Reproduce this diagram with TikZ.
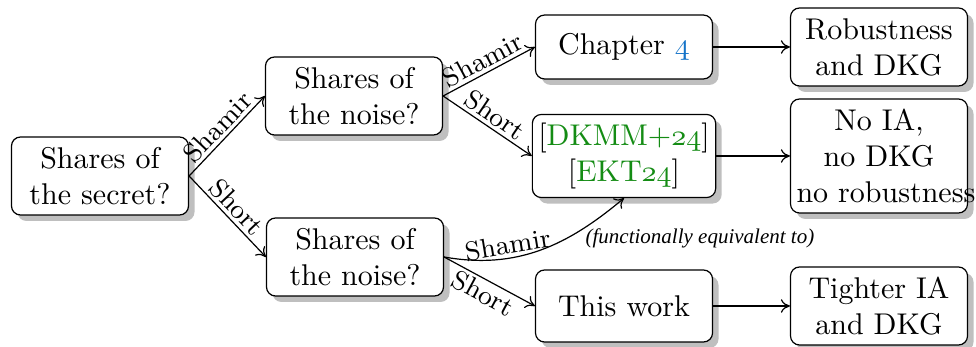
\documentclass[tikz,border=0pt]{standalone}
\usepackage{fontspec}
\newfontfamily\feitfont{Liberation Serif}
\usetikzlibrary{shadows,arrows.meta}
\definecolor{linkblue}{RGB}{20,115,200}
\definecolor{citegreen}{RGB}{20,140,20}
\newcommand{\osnum}[1]{\ensuremath{\mathnormal{#1}}}
\begin{document}
\begin{tikzpicture}[x=0.33333pt,y=-0.33333pt,
  box/.style={draw, rounded corners=3pt, fill=white, align=center, inner sep=2pt,
     minimum width=59pt, minimum height=26pt,
     drop shadow={shadow xshift=2pt, shadow yshift=-2pt, fill=black!25, opacity=1}},
  arr/.style={-{To[length=3pt,width=4.5pt]}, line width=0.4pt},
  lab/.style={font=\small, sloped, inner sep=1pt},
]
\useasboundingbox (0,0) rectangle (976,347);
\node[box] (A) at (100,176) {Shares of\\the secret?};
\node[box] (B) at (354,96) {Shares of\\the noise?};
\node[box] (C) at (355,257) {Shares of\\the noise?};
\node[box, minimum height=21.3pt] (D) at (624,47) {Chapter \textcolor{linkblue}{\osnum{4}}};
\node[box, minimum height=27.7pt] (E) at (624,156) {{[}\textcolor{citegreen}{DKMM+\osnum{24}}{]}\\{[}\textcolor{citegreen}{EKT\osnum{24}}{]}};
\node[box, minimum height=24pt] (F) at (624,306) {This work};
\node[box] (G) at (879,47) {Robustness\\and DKG};
\node[box, text width=55pt, minimum height=38pt] (H) at (879,156) {No IA,\\no DKG\\\mbox{no robustness}};
\node[box] (I) at (879,306) {Tighter IA\\and DKG};
\node[anchor=west, font=\feitfont\fontsize{7}{8}\selectfont\itshape, inner sep=1pt] (fe) at (582,238) {(functionally equivalent to)};

\draw[arr] (A.east) -- node[lab, above] {Shamir} (B.west);
\draw[arr] (A.east) -- node[lab, above] {Short} (C.west);
\draw[arr] (B.east) -- node[lab, above] {Shamir} (D.west);
\draw[arr] (B.east) -- node[lab, above] {Short} (E.west);
\draw[arr] (C.east) to[out=-10, in=220] node[lab, above, pos=0.33] {Shamir} (E.south);
\draw[arr] (C.east) -- node[lab, below] {Short} (F.west);
\draw[arr] (D.east) -- (G.west);
\draw[arr] (E.east) -- (H.west);
\draw[arr] (F.east) -- (I.west);
\end{tikzpicture}
\end{document}
